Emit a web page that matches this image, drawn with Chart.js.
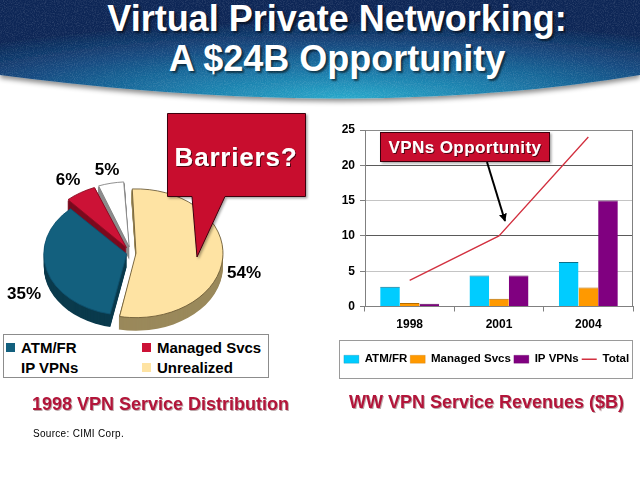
<!DOCTYPE html>
<html>
<head>
<meta charset="utf-8">
<title>Virtual Private Networking</title>
<script src="https://cdn.jsdelivr.net/npm/chart.js@4.4.1/dist/chart.umd.min.js"></script>
<style>
  html, body { margin: 0; padding: 0; background: #fff; }
  body { position: relative; width: 640px; height: 480px; overflow: hidden;
         font-family: "Liberation Sans", Arial, Helvetica, sans-serif; }
  .abs { position: absolute; }
  #title { left: 17px; top: -1px; width: 640px; text-align: center; color: #fff;
           font-size: 36px; font-weight: bold; line-height: 40px;
           text-shadow: 2px 2px 2px rgba(0,0,0,.55); }
  #pieCanvas { left: 0; top: 153px; }
  #barCanvas { left: 320px; top: 110px; }
  .pct { font-size: 17px; font-weight: bold; color: #000; white-space: nowrap;
         transform: translate(-50%, -50%); }
  #pieLegend { left: 3px; top: 334px; width: 264px; height: 40px; padding-top: 2px;
               border: 1px solid #8c8c8c; background: #fff;
               display: grid; grid-template-columns: 136px 128px; grid-auto-rows: 20px; }
  .item { display: flex; align-items: center; padding-left: 2px;
          font-size: 15px; font-weight: bold; color: #000; }
  .sw { width: 9px; height: 9px; margin-right: 6px; flex: none; }
  .caption { font-size: 18px; font-weight: bold; line-height: 20px; color: #b3153a;
             text-shadow: 1px 1px 0 rgba(60,0,10,.35); white-space: nowrap; }
  #capLeft { left: 32px; top: 394px; }
  #capRight { left: 349px; top: 392px; }
  #source { left: 33px; top: 428px; font-size: 10px; letter-spacing: .3px; color: #000; }
</style>
</head>
<body>

<svg class="abs" width="640" height="130" style="left:0;top:0">
  <defs>
    <radialGradient id="sky" cx="0.54" cy="1" r="0.78">
      <stop offset="0" stop-color="#2aa9cb"/>
      <stop offset="0.35" stop-color="#1b7aa9"/>
      <stop offset="0.7" stop-color="#164a80"/>
      <stop offset="1" stop-color="#0c2857"/>
    </radialGradient>
    <filter id="bannerShadow" x="-5%" y="-5%" width="110%" height="130%">
      <feDropShadow dx="0" dy="3" stdDeviation="2.5" flood-color="#000" flood-opacity="0.45"/>
    </filter>
    <filter id="grain" x="0" y="0" width="100%" height="100%">
      <feTurbulence type="fractalNoise" baseFrequency="0.9" numOctaves="2" seed="4" result="n"/>
      <feColorMatrix in="n" type="matrix" values="0 0 0 0 1  0 0 0 0 1  0 0 0 0 1  1.2 0 0 0 -0.5"/>
      <feComposite operator="in" in2="SourceGraphic"/>
    </filter>
  </defs>
  <path d="M0,0 H640 V75 Q360,122 0,75 Z" fill="url(#sky)" filter="url(#bannerShadow)"/>
  <path d="M0,0 H640 V75 Q360,122 0,75 Z" fill="#fff" filter="url(#grain)" opacity="0.25"/>
</svg>
<div id="title" class="abs">Virtual Private Networking:<br>A $24B Opportunity</div>

<canvas id="pieCanvas" class="abs" width="262" height="200"></canvas>
<div id="pctLayer"></div>
<div id="pieLegend" class="abs"></div>

<canvas id="barCanvas" class="abs" width="320" height="280"></canvas>

<svg class="abs" width="640" height="480" style="left:0;top:0">
  <defs>
    <filter id="drop" x="-10%" y="-10%" width="130%" height="130%">
      <feDropShadow dx="1.5" dy="1.5" stdDeviation="1" flood-color="#000" flood-opacity="0.35"/>
    </filter>
    <filter id="txtShadow" x="-5%" y="-20%" width="115%" height="150%">
      <feDropShadow dx="1" dy="1" stdDeviation="0.5" flood-color="#000" flood-opacity="0.6"/>
    </filter>
    <marker id="head" viewBox="0 0 10 10" refX="9" refY="5" markerWidth="4" markerHeight="4" orient="auto">
      <path d="M0,0 L10,5 L0,10 Z" fill="#000"/>
    </marker>
  </defs>
  <path d="M167.5,113.5 H305.5 V196.5 H225 L197,257 L192,196.5 H167.5 Z"
        fill="#c8102e" stroke="#3c0010" stroke-width="1" filter="url(#drop)"/>
  <text x="236" y="166" text-anchor="middle" fill="#fff" font-size="26" font-weight="bold"
        letter-spacing="0.8" font-family="Liberation Sans, Arial, sans-serif" filter="url(#txtShadow)">Barriers?</text>
  <rect x="380.5" y="132.5" width="169" height="29" fill="#c8102e" stroke="#3c0010" filter="url(#drop)"/>
  <text x="465" y="153" text-anchor="middle" fill="#fff" font-size="17" font-weight="bold"
        letter-spacing="0.4" font-family="Liberation Sans, Arial, sans-serif" filter="url(#txtShadow)">VPNs Opportunity</text>
  <line x1="487" y1="162" x2="505" y2="221" stroke="#000" stroke-width="2" marker-end="url(#head)"/>
</svg>

<div id="capLeft" class="abs caption">1998 VPN Service Distribution</div>
<div id="capRight" class="abs caption">WW VPN Service Revenues ($B)</div>
<div id="source" class="abs">Source: CIMI Corp.</div>

<script>
const FONT = '"Liberation Sans", Arial, Helvetica, sans-serif';

// 1998 service distribution, percent
const pieLabels = ['Unrealized', 'ATM/FR', 'Managed Svcs', 'IP VPNs'];
const pieValues = [54, 35, 6, 5];
const pieLegendOrder = ['ATM/FR', 'Managed Svcs', 'IP VPNs', 'Unrealized'];

// WW revenues, $B
const years = ['1998', '2001', '2004'];
const atmFr = [2.8, 4.4, 6.3];
const managedSvcs = [0.5, 1.1, 2.7];
const ipVpns = [0.4, 4.4, 15];
const totalRev = [3.7, 10, 24];
const yTicks = [0, 5, 10, 15, 20, 25];

// pie look
const pieTop = ['#fee3a3', '#13607e', '#cc1236', '#ffffff'];
const pieSide = ['#9a895b', '#0a3a4c', '#7a0a1e', '#8c8c8c'];
const pieEdge = ['#6b5a35', '#0e5270', '#8a0c22', '#808080'];
const pieOffset = [20, 18, 34, 34];
const pctSpots = [[244, 273], [24, 294], [68, 180], [107, 170]];

const SQUASH = 0.74;
const DEPTH = 13;

// same geometry ArcElement.draw uses (offset shift + radius fix)
function slicePath(ctx, arc) {
  const off = (arc.options.offset || 0) / 4;
  const mid = (arc.startAngle + arc.endAngle) / 2;
  const grow = off * (1 - Math.sin(Math.min(Math.PI, arc.circumference)));
  const x = arc.x + Math.cos(mid) * off;
  const y = arc.y + Math.sin(mid) * off;
  ctx.beginPath();
  ctx.moveTo(x, y);
  ctx.arc(x, y, arc.outerRadius + grow, arc.startAngle, arc.endAngle);
  ctx.closePath();
}

// flattens the pie into an ellipse and extrudes the slices downward
const tiltedPie = {
  id: 'tiltedPie',
  beforeDatasetsDraw(chart) {
    const ctx = chart.ctx;
    const arcs = chart.getDatasetMeta(0).data;
    const cx = arcs[0].x, cy = arcs[0].y;
    ctx.save();
    ctx.translate(cx, cy);
    ctx.scale(1, SQUASH);
    ctx.translate(-cx, -cy);

    const midSin = a => Math.sin((a.startAngle + a.endAngle) / 2);
    const order = arcs.map((a, i) => i).sort((a, b) => midSin(arcs[a]) - midSin(arcs[b]));
    order.forEach(i => {
      ctx.fillStyle = pieSide[i];
      for (let d = DEPTH; d > 0; d--) {
        ctx.save();
        ctx.translate(0, d / SQUASH);
        slicePath(ctx, arcs[i]);
        ctx.fill();
        ctx.restore();
      }
    });
  },
  afterDatasetsDraw(chart) {
    chart.ctx.restore();
  }
};

new Chart(document.getElementById('pieCanvas'), {
  type: 'pie',
  data: {
    labels: pieLabels,
    datasets: [{
      data: pieValues,
      backgroundColor: pieTop,
      borderColor: pieEdge,
      borderWidth: 1,
      offset: pieOffset,
      clip: false
    }]
  },
  options: {
    responsive: false,
    animation: false,
    events: [],
    rotation: -3,
    radius: 82,
    layout: { padding: 0 },
    plugins: { legend: { display: false }, tooltip: { enabled: false } }
  },
  plugins: [tiltedPie]
});

// percent labels
const pctLayer = document.getElementById('pctLayer');
pieValues.forEach((v, i) => {
  const el = document.createElement('div');
  el.className = 'abs pct';
  el.style.left = pctSpots[i][0] + 'px';
  el.style.top = pctSpots[i][1] + 'px';
  el.textContent = v + '%';
  pctLayer.appendChild(el);
});

// pie legend, two columns
const pieLegend = document.getElementById('pieLegend');
pieLegendOrder.forEach(name => {
  const i = pieLabels.indexOf(name);
  const item = document.createElement('div');
  item.className = 'item';
  const sw = document.createElement('span');
  sw.className = 'sw';
  sw.style.background = pieTop[i];
  item.appendChild(sw);
  item.appendChild(document.createTextNode(name));
  pieLegend.appendChild(item);
});

// right border of the plot
const plotFrame = {
  id: 'plotFrame',
  afterDatasetsDraw(chart) {
    const { ctx, chartArea: a } = chart;
    const x = Math.round(a.right) - 0.5;
    ctx.save();
    ctx.strokeStyle = '#808080';
    ctx.lineWidth = 1;
    ctx.beginPath();
    ctx.moveTo(x, a.top);
    ctx.lineTo(x, a.bottom);
    ctx.stroke();
    ctx.restore();
  }
};

// box around the legend
const legendFrame = {
  id: 'legendFrame',
  afterDraw(chart) {
    const boxes = chart.legend.legendHitBoxes;
    if (!boxes.length) return;
    const first = boxes[0], last = boxes[boxes.length - 1];
    const left = Math.round(first.left - 5) + 0.5;
    const right = Math.round(last.left + last.width + 3) + 0.5;
    const mid = first.top + first.height / 2;
    const ctx = chart.ctx;
    ctx.save();
    ctx.strokeStyle = '#9a9a9a';
    ctx.lineWidth = 1;
    ctx.strokeRect(left, Math.round(mid - 19) + 0.5, right - left, 38);
    ctx.restore();
  }
};

const tickFont = { family: FONT, size: 12, weight: 'bold' };

new Chart(document.getElementById('barCanvas'), {
  type: 'bar',
  data: {
    labels: years,
    datasets: [
      { label: 'ATM/FR', data: atmFr, backgroundColor: '#00ccff', borderColor: '#0b6f8a',
        borderWidth: { top: 1, left: 0, right: 0, bottom: 0 }, pointStyle: 'rect' },
      { label: 'Managed Svcs', data: managedSvcs, backgroundColor: '#ff9900', borderColor: '#b36b00',
        borderWidth: { top: 1, left: 0, right: 0, bottom: 0 }, pointStyle: 'rect' },
      { label: 'IP VPNs', data: ipVpns, backgroundColor: '#800080', borderColor: '#5a005a',
        borderWidth: { top: 1, left: 0, right: 0, bottom: 0 }, pointStyle: 'rect' },
      { type: 'line', label: 'Total', data: totalRev, borderColor: '#d2303f', borderWidth: 1.3,
        pointRadius: 0, pointStyle: 'line', pointBorderColor: '#d2303f', pointBorderWidth: 1.3,
        fill: false, tension: 0 }
    ]
  },
  options: {
    responsive: false,
    animation: false,
    events: [],
    layout: { padding: { top: 20, right: 7, bottom: 15, left: 20 } },
    datasets: { bar: { categoryPercentage: 0.66, barPercentage: 1 } },
    plugins: {
      legend: {
        position: 'bottom',
        labels: {
          usePointStyle: true, pointStyleWidth: 15, boxHeight: 8, padding: 3,
          color: '#000', font: { family: FONT, size: 11.5, weight: 'bold' }
        }
      },
      tooltip: { enabled: false }
    },
    scales: {
      x: {
        afterFit: s => { s.height = 44; },
        border: { color: '#808080' },
        grid: { offset: true, drawOnChartArea: false, tickLength: 5, color: '#808080' },
        ticks: { color: '#000', padding: 6, font: tickFont }
      },
      y: {
        min: 0,
        max: 25,
        afterBuildTicks: s => { s.ticks = yTicks.map(v => ({ value: v })); },
        afterFit: s => { s.width = 25; },
        border: { color: '#808080' },
        grid: {
          color: c => {
            if (c.index === yTicks.length - 1) return '#8a8a8a';
            return c.tick.value % 10 === 0 ? '#5a5a5a' : '#c4c4c4';
          },
          tickColor: '#808080',
          tickLength: 5
        },
        ticks: { color: '#000', padding: 5, font: tickFont }
      }
    }
  },
  plugins: [plotFrame, legendFrame]
});
</script>
</body>
</html>
